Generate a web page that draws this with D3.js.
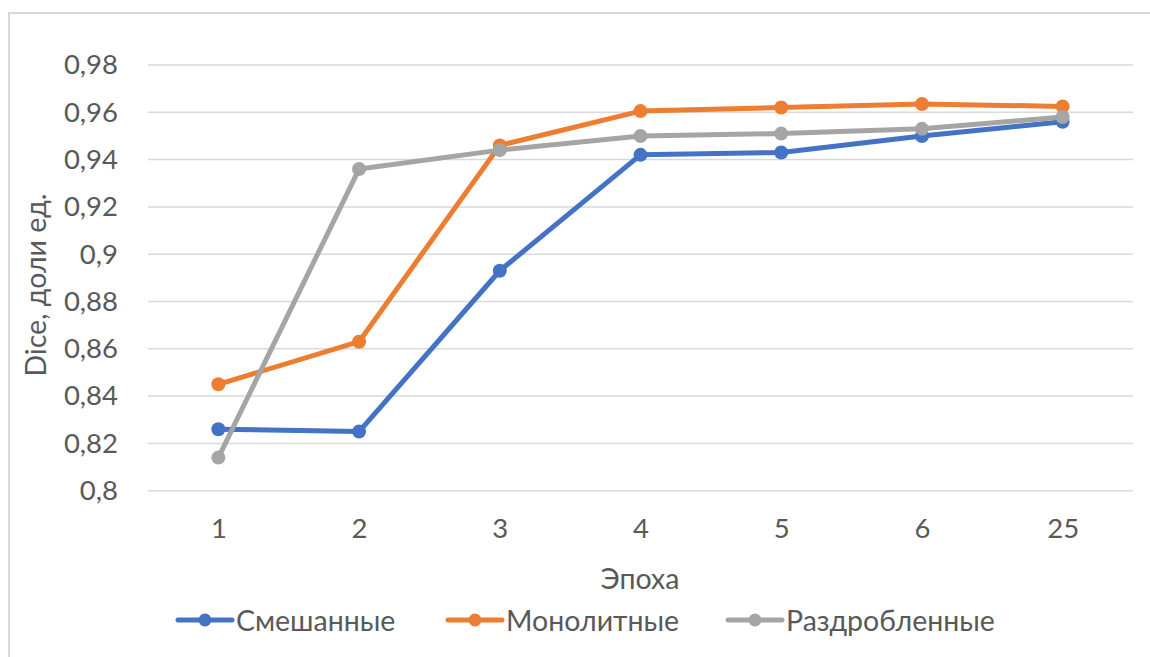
<!DOCTYPE html>
<html>
<head>
<meta charset="utf-8">
<script src="https://cdn.jsdelivr.net/npm/d3@7"></script>
<style>
  html, body { margin: 0; padding: 0; background: #ffffff; }
  svg { display: block; }
  text { font-family: Lato, "Open Sans", sans-serif; fill: #595959; }
</style>
</head>
<body>
<svg id="chart" width="1150" height="657"></svg>
<script>
// Epochs along the horizontal axis
const epochs = ["1", "2", "3", "4", "5", "6", "25"];

// Dice score per epoch for each fragment type
const mixed      = [0.826, 0.825, 0.893, 0.942, 0.943, 0.950, 0.956];
const monolithic = [0.845, 0.863, 0.946, 0.9605, 0.962, 0.9635, 0.9625];
const fragmented = [0.814, 0.936, 0.944, 0.950, 0.951, 0.953, 0.958];

const yTicks = [0.8, 0.82, 0.84, 0.86, 0.88, 0.9, 0.92, 0.94, 0.96, 0.98];

const seriesNames = ["Смешанные", "Монолитные", "Раздробленные"];
const seriesColors = ["#4472C4", "#ED7D31", "#A5A5A5"];

const series = [mixed, monolithic, fragmented].map((values, i) => ({
  name: seriesNames[i],
  color: seriesColors[i],
  values
}));

const svg = d3.select("#chart");

// Chart frame
svg.append("rect")
  .attr("x", 9).attr("y", 13)
  .attr("width", 1160).attr("height", 660)
  .attr("fill", "none")
  .attr("stroke", "#d9d9d9")
  .attr("stroke-width", 2);

const plot = { left: 148, right: 1133, top: 65, bottom: 490.7 };

const x = d3.scalePoint()
  .domain(epochs)
  .range([plot.left, plot.right])
  .padding(0.5);

const y = d3.scaleLinear()
  .domain([0.8, 0.98])
  .range([plot.bottom, plot.top]);

const fmt = v => d3.format(".2~f")(v).replace(".", ",");

// Horizontal gridlines
svg.append("g")
  .selectAll("line")
  .data(yTicks)
  .join("line")
  .attr("x1", plot.left).attr("x2", plot.right)
  .attr("y1", d => y(d)).attr("y2", d => y(d))
  .attr("stroke", "#d9d9d9")
  .attr("stroke-width", 1.5);

// Y axis labels
const yAxis = d3.axisLeft(y)
  .tickValues(yTicks)
  .tickFormat(fmt)
  .tickSize(0)
  .tickPadding(30);

const yg = svg.append("g")
  .attr("transform", `translate(${plot.left},0)`)
  .call(yAxis);
yg.select(".domain").remove();
yg.selectAll("text")
  .attr("font-size", 27.5)
  .attr("font-family", "Lato, sans-serif")
  .attr("fill", "#595959");

// X axis labels
const xAxis = d3.axisBottom(x).tickSize(0).tickPadding(28);
const xg = svg.append("g")
  .attr("transform", `translate(0,${plot.bottom})`)
  .call(xAxis);
xg.select(".domain").remove();
xg.selectAll("text")
  .attr("font-size", 27.5)
  .attr("font-family", "Lato, sans-serif")
  .attr("fill", "#595959");

// Axis titles
svg.append("text")
  .attr("x", 640).attr("y", 578)
  .attr("text-anchor", "middle")
  .attr("dominant-baseline", "central")
  .attr("font-size", 28.5)
  .text("Эпоха");

svg.append("text")
  .attr("transform", "translate(35,285) rotate(-90)")
  .attr("text-anchor", "middle")
  .attr("dominant-baseline", "central")
  .attr("font-size", 28.5)
  .text("Dice, доли ед.");

// Series lines and markers
const line = d3.line()
  .x((d, i) => x(epochs[i]))
  .y(d => y(d));

const sg = svg.append("g")
  .selectAll("g")
  .data(series)
  .join("g");

sg.append("path")
  .attr("d", d => line(d.values))
  .attr("fill", "none")
  .attr("stroke", d => d.color)
  .attr("stroke-width", 5)
  .attr("stroke-linejoin", "round")
  .attr("stroke-linecap", "round");

sg.selectAll("circle")
  .data(d => d.values.map((v, i) => ({ v, i, color: d.color })))
  .join("circle")
  .attr("cx", d => x(epochs[d.i]))
  .attr("cy", d => y(d.v))
  .attr("r", 7)
  .attr("fill", d => d.color);

// Legend
const legendX = [178, 448, 728];
const lg = svg.append("g")
  .selectAll("g")
  .data(series)
  .join("g")
  .attr("transform", (d, i) => `translate(${legendX[i]},620)`);

lg.append("line")
  .attr("x1", 0).attr("x2", 54)
  .attr("y1", 0).attr("y2", 0)
  .attr("stroke", d => d.color)
  .attr("stroke-width", 5)
  .attr("stroke-linecap", "round");

lg.append("circle")
  .attr("cx", 27).attr("cy", 0).attr("r", 6.5)
  .attr("fill", d => d.color);

lg.append("text")
  .attr("x", 58).attr("y", 0)
  .attr("dominant-baseline", "central")
  .attr("font-size", 28.5)
  .text(d => d.name);
</script>
</body>
</html>
